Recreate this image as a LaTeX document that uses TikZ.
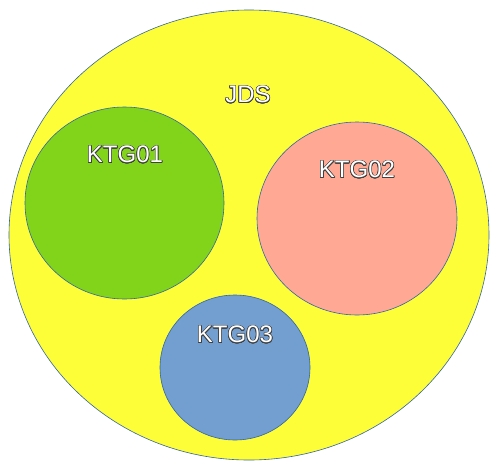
\documentclass[tikz,border=0pt]{standalone}
\usepackage{fontspec}
\setmainfont{Liberation Sans}
\usepackage[copies]{contour}
\contourlength{0.6pt}
\contournumber{16}
\definecolor{jdsyellow}{HTML}{FDFD38}
\definecolor{ktggreen}{HTML}{81D41A}
\definecolor{ktgpink}{HTML}{FFA994}
\definecolor{ktgblue}{HTML}{729FCF}
\definecolor{edgeblue}{HTML}{3465A4}
\tikzset{
  blob/.style={draw=edgeblue, line width=0.6pt},
  lbl/.style={font=\fontsize{24}{28}\selectfont, text=white, inner sep=0pt}
}
\newcommand{\olbl}[1]{\contour{black!75}{#1}}
\begin{document}
\begin{tikzpicture}[x=1pt,y=-1pt]
\useasboundingbox (0,0) rectangle (497,471);
\fill[white] (0,0) rectangle (497,471);
\draw[blob, fill=jdsyellow] (249,235) ellipse [x radius=240, y radius=225];
\draw[blob, fill=ktggreen] (124.5,203) ellipse [x radius=99.5, y radius=96];
\draw[blob, fill=ktgpink] (357,218.5) ellipse [x radius=100, y radius=96.5];
\draw[blob, fill=ktgblue] (235,367.5) ellipse [x radius=75, y radius=72.5];
\node[lbl] (jds) at (248,95) {\olbl{JDS}};
\node[lbl] (k1) at (125,155) {\olbl{KTG01}};
\node[lbl] (k2) at (357,170) {\olbl{KTG02}};
\node[lbl] (k3) at (235,335) {\olbl{KTG03}};
\end{tikzpicture}
\end{document}
